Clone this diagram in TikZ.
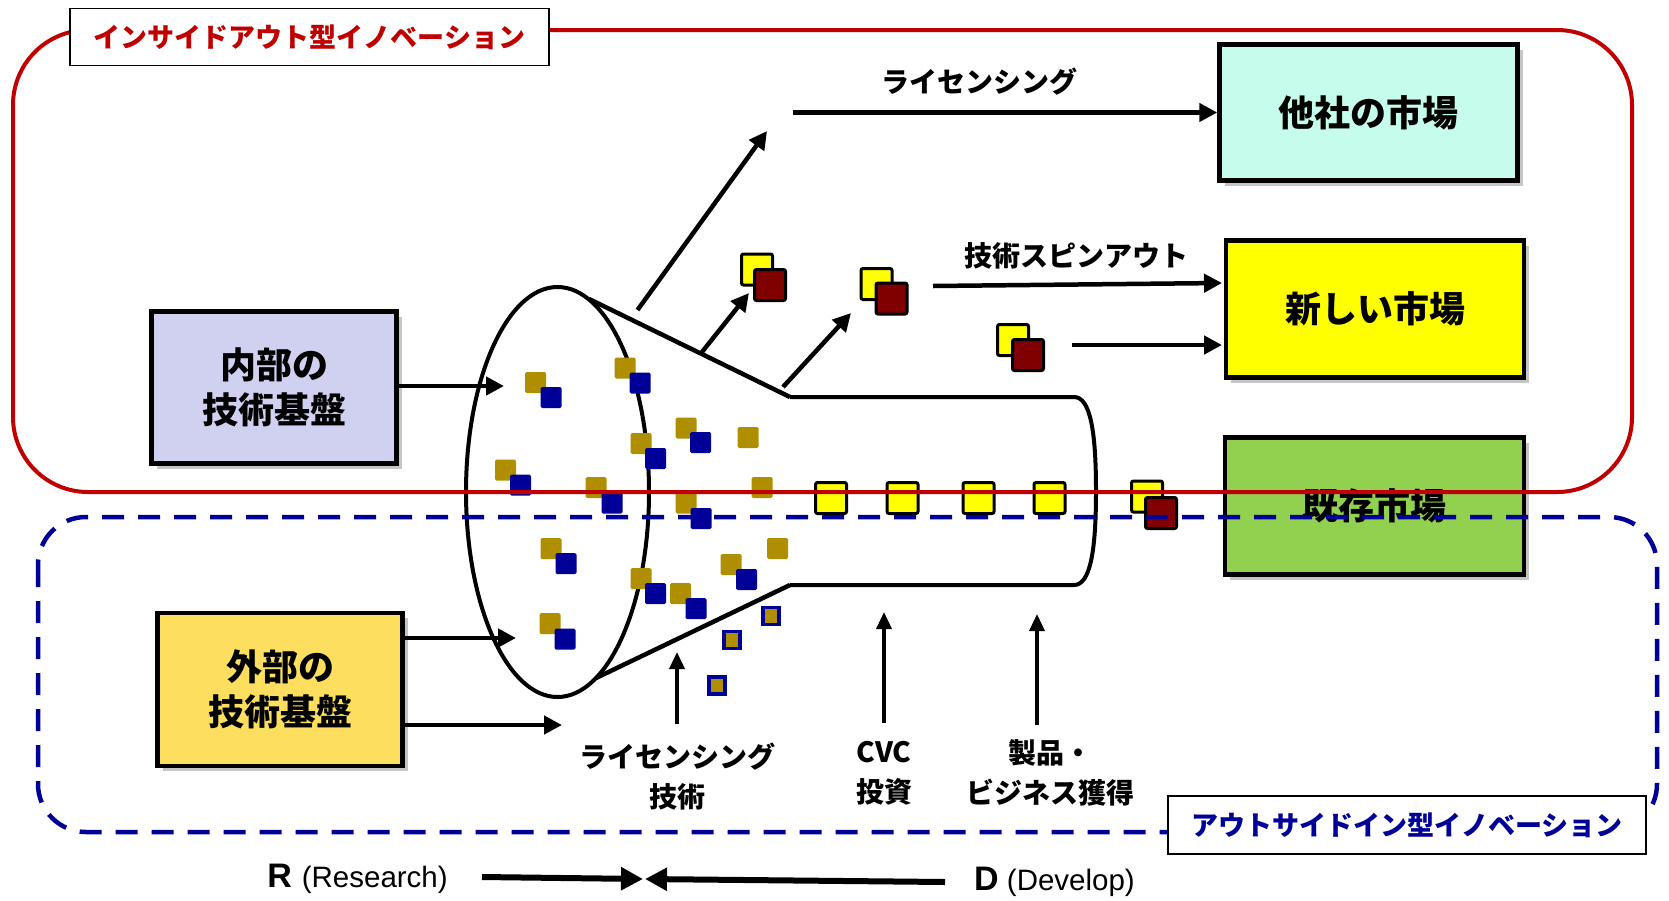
\documentclass[tikz,border=0pt]{standalone}
\usepackage{fontspec}
\setmainfont{Liberation Sans}
\newfontfamily\jp{Noto Sans CJK JP}
\usetikzlibrary{arrows.meta,shapes.geometric,shadows}
\definecolor{rframe}{HTML}{C00000}
\definecolor{bframe}{HTML}{000099}
\definecolor{goldsq}{HTML}{AF8F00}
\definecolor{bluesq}{HTML}{000099}
\definecolor{dred}{HTML}{800000}
\definecolor{cyanbox}{HTML}{C6FCEC}
\definecolor{lavbox}{HTML}{D0D0F0}
\definecolor{goldbox}{HTML}{FDDE5E}
\definecolor{greenbox}{HTML}{92D050}
\definecolor{ybox}{HTML}{FFFF00}
\tikzset{
 mbox/.style={draw=black, line width=4.5pt, drop shadow={shadow xshift=5pt,shadow yshift=-5pt,fill=black!45,opacity=.5}, align=center, font=\jp\bfseries\fontsize{36}{45}\selectfont, inner sep=0pt},
 arr/.style={line width=4.5pt, -{Triangle[length=18pt,width=18pt]}},
 thinarr/.style={line width=3.5pt, -{Triangle[length=17pt,width=15pt]}},
 bigarr/.style={line width=6pt, -{Triangle[length=22pt,width=22pt]}},
 ysq/.style={draw=black, line width=3pt, fill=ybox, rounded corners=2pt, minimum size=31pt, inner sep=0pt},
 rsq/.style={ysq, fill=dred},
 gsq/.style={fill=goldsq, rounded corners=1.5pt, minimum size=21pt, inner sep=0pt},
 bsq/.style={gsq, fill=bluesq},
 tsq/.style={draw=bluesq, line width=3.5pt, fill=goldsq, minimum width=16pt, minimum height=17pt, inner sep=0pt},
 lbl/.style={font=\jp\bfseries\fontsize{28}{40}\selectfont, align=center, inner sep=0pt},
 ttl/.style={draw=black, line width=1.5pt, fill=white, inner sep=0pt, font=\jp\bfseries\fontsize{27}{30}\selectfont},
}
\begin{document}
\begin{tikzpicture}[x=1pt,y=-1pt]
\useasboundingbox (0,0) rectangle (1669,900);

% market boxes
\node[mbox, fill=cyanbox, minimum width=298pt, minimum height=136pt] (tasha) at (1368.5,112.5) {他社の市場};
\node[mbox, fill=ybox, minimum width=298pt, minimum height=137pt] (atara) at (1375,309) {新しい市場};
\node[mbox, fill=greenbox, minimum width=299pt, minimum height=137pt] (kison) at (1374.5,506) {既存市場};
\node[mbox, fill=lavbox, minimum width=245pt, minimum height=152pt] (naibu) at (274,387.5) {内部の\\技術基盤};
\node[mbox, fill=goldbox, minimum width=245pt, minimum height=153pt] (gaibu) at (280,689.5) {外部の\\技術基盤};

% funnel
\node[ellipse, draw, line width=4pt, minimum width=183pt, minimum height=410pt, inner sep=0pt] (ell) at (557.5,492) {};
\coordinate (ft1) at (589,299);
\coordinate (ft2) at (790,397);
\coordinate (fb1) at (596,678);
\coordinate (fb2) at (790,585);
\draw[line width=4.5pt] (ft1) -- (ft2);
\draw[line width=4.5pt] (fb1) -- (fb2);
\draw[line width=4pt] (ft2) -- (1074,397) .. controls (1090,397) and (1096,430) .. (1096,491) .. controls (1096,552) and (1090,585) .. (1074,585) -- (fb2);

% small squares
\foreach \gx/\gy/\bx/\by [count=\i] in {535.5/382.5/551/397.5, 625/368/640/383, 686/428/700.5/442.5, 641/443.5/655.5/458.5, 505.5/470/520.5/485, 596/487.5/612/503, 686/503/701/518.5, 551/548.5/566/563.5, 641/578.5/655.5/593.5, 680.5/593.5/696/608.5, 731/564.5/746.5/579.5, 550/623.5/565/639}
{ \node[gsq] (g\i) at (\gx,\gy) {}; \node[bsq] (b\i) at (\bx,\by) {}; }
\node[gsq] (ga) at (748,437.5) {};
\node[gsq] (gb) at (762,487.5) {};
\node[gsq] (gc) at (777.5,548.5) {};
\node[tsq] (ta) at (771,616) {};
\node[tsq] (tb) at (732,640) {};
\node[tsq] (tc) at (717,685.5) {};

% yellow squares in tube
\node[ysq] (y1) at (831,498) {};
\node[ysq] (y2) at (902.5,498) {};
\node[ysq] (y3) at (978.5,498) {};
\node[ysq] (y4) at (1049.5,498) {};

% pairs
\node[ysq] (p1y) at (757,269.5) {};
\node[rsq] (p1r) at (770,285) {};
\node[ysq] (p2y) at (876.5,284) {};
\node[rsq] (p2r) at (891.5,298.5) {};
\node[ysq] (p3y) at (1013,340) {};
\node[rsq] (p3r) at (1028,355) {};
\node[ysq] (p4y) at (1147,496.5) {};
\node[rsq] (p4r) at (1161,513) {};

% input arrows
\coordinate (inA) at (504,386);
\coordinate (inB) at (516,638);
\coordinate (inC) at (562,725);
\draw[arr] (naibu.east |- inA) -- (inA);
\draw[arr] (gaibu.east |- inB) -- (inB);
\draw[arr] (gaibu.east |- inC) -- (inC);

% output arrows
\coordinate (d0) at (637.5,310);
\coordinate (d1) at (767,131);
\draw[arr] (d0) -- (d1);
\coordinate (lic0) at (793,112.5);
\draw[arr] (lic0) -- (tasha.west);
\node[lbl] (liclbl) at (979,82) {ライセンシング};
\coordinate (a1s) at (702,352);
\coordinate (a1e) at (749,293);
\draw[arr] (a1s) -- (a1e);
\coordinate (a2s) at (783,387);
\coordinate (a2e) at (851,313);
\draw[arr] (a2s) -- (a2e);
\coordinate (sp0) at (933,286);
\coordinate (sp1) at (1222,283);
\draw[arr] (sp0) -- (sp1);
\node[lbl] (splbl) at (1076,256) {技術スピンアウト};
\coordinate (nm0) at (1072,345);
\coordinate (nm1) at (1222,345);
\draw[arr] (nm0) -- (nm1);

% bottom vertical arrows and labels
\coordinate (v1s) at (677,724);
\coordinate (v1e) at (677,652);
\coordinate (v2s) at (884,723);
\coordinate (v2e) at (884,612);
\coordinate (v3s) at (1037,725);
\coordinate (v3e) at (1037,614);
\draw[thinarr] (v1s) -- (v1e);
\draw[thinarr] (v2s) -- (v2e);
\draw[thinarr] (v3s) -- (v3e);
\node[lbl] (lb1) at (677,777) {ライセンシング\\技術};
\node[lbl] (lb2) at (884,773) {CVC\\投資};
\node[lbl] (lb3) at (1050,773) {製品・\\ビジネス獲得};

% R and D
\node[inner sep=0pt, font=\fontsize{29.5}{33}\selectfont] (rlbl) at (357.5,879) {{\fontsize{34}{38}\selectfont\bfseries R}\hspace{10pt}(Research)};
\node[inner sep=0pt, font=\fontsize{29.5}{33}\selectfont] (dlbl) at (1054.5,882) {{\fontsize{34}{38}\selectfont\bfseries D} (Develop)};
\coordinate (ra) at (482,877);
\coordinate (rm) at (643,879);
\coordinate (da) at (945,882);
\coordinate (dm) at (645,879);
\draw[bigarr] (ra) -- (rm);
\draw[bigarr] (da) -- (dm);

% frames
\draw[rframe, line width=4pt, rounded corners=75pt] (13,30) rectangle (1632,492);
\draw[bframe, line width=4.5pt, dash pattern=on 22pt off 14pt, rounded corners=48pt] (38,517) rectangle (1657,832);

% titles
\node[ttl, text=rframe, minimum width=479pt, minimum height=57pt] (rt) at (309.5,37) {インサイドアウト型イノベーション};
\node[ttl, text=bframe, minimum width=478pt, minimum height=58pt] (bt) at (1407,825) {アウトサイドイン型イノベーション};
\end{tikzpicture}
\end{document}
